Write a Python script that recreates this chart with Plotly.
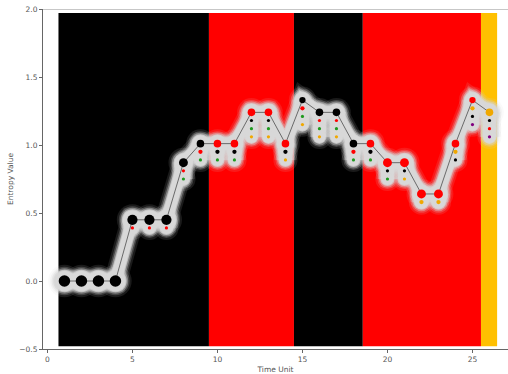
import plotly.graph_objects as go

# ---- data -------------------------------------------------------------
time_unit = list(range(1, 27))
entropy = [0.00, 0.00, 0.00, 0.00, 0.45, 0.45, 0.45, 0.87, 1.01, 1.01,
           1.01, 1.24, 1.24, 1.01, 1.33, 1.24, 1.24, 1.01, 1.01, 0.87,
           0.87, 0.64, 0.64, 1.01, 1.33, 1.24]

# state composition of each window: (state, count), dominant state first
composition = [
    [("black", 6)], [("black", 6)], [("black", 6)], [("black", 6)],
    [("black", 5), ("red", 1)], [("black", 5), ("red", 1)], [("black", 5), ("red", 1)],
    [("black", 4), ("red", 1), ("green", 1)],
    [("black", 3), ("red", 2), ("green", 1)],
    [("red", 3), ("black", 2), ("green", 1)],
    [("red", 3), ("black", 2), ("green", 1)],
    [("red", 3), ("black", 1), ("green", 1), ("orange", 1)],
    [("red", 3), ("black", 1), ("green", 1), ("orange", 1)],
    [("red", 3), ("black", 2), ("orange", 1)],
    [("black", 2), ("red", 2), ("green", 1), ("orange", 1)],
    [("black", 3), ("red", 1), ("green", 1), ("orange", 1)],
    [("black", 3), ("red", 1), ("green", 1), ("orange", 1)],
    [("black", 3), ("red", 2), ("green", 1)],
    [("red", 3), ("black", 2), ("green", 1)],
    [("red", 4), ("black", 1), ("green", 1)],
    [("red", 4), ("black", 1), ("orange", 1)],
    [("red", 4), ("orange", 2)],
    [("red", 4), ("orange", 2)],
    [("red", 3), ("orange", 2), ("black", 1)],
    [("red", 2), ("orange", 2), ("black", 1), ("purple", 1)],
    [("orange", 3), ("black", 1), ("red", 1), ("purple", 1)],
]

# background regimes
band_start = [0.65, 9.5, 14.5, 18.55, 25.5]
band_end = [9.5, 14.5, 18.55, 25.5, 26.45]
band_state = ["black", "red", "black", "red", "amber"]

# ---- style ------------------------------------------------------------
state_color = {"black": "#000000", "red": "#ff0000", "green": "#1f9a1f",
               "orange": "#f0a800", "purple": "#800080", "amber": "#ffc000"}
SUB_STEP = 0.06          # vertical spacing of the stacked state dots
GLOW_RGB = "216,216,216"


def dot_size(count):
    return 3.0 + 1.3 * (count - 1) if count > 1 else 3.2


fig = go.Figure()

for x0, x1, st in zip(band_start, band_end, band_state):
    fig.add_shape(type="rect", xref="x", yref="y", x0=x0, x1=x1, y0=-0.48, y1=1.97,
                  fillcolor=state_color[st], line_width=0, layer="below")

# positions of every dot
dot_x, dot_y, dot_c, dot_s = [], [], [], []
col_x, col_y = [], []
for t, e, comp in zip(time_unit, entropy, composition):
    for k, (st, n) in enumerate(comp):
        dot_x.append(t)
        dot_y.append(e - SUB_STEP * k)
        dot_c.append(state_color[st])
        dot_s.append(dot_size(n) + (2.0 if k == 0 else 0.0))
    if len(comp) > 1:
        col_x += [t, t, None]
        col_y += [e, e - SUB_STEP * (len(comp) - 1), None]

# soft glow: stacked translucent strokes around the path and the dot columns
glow_layers = [(23, 0.12), (19, 0.22), (16, 0.4), (13, 0.75), (11, 1.0)]
for w, a in glow_layers:
    col = f"rgba({GLOW_RGB},{a})"
    fig.add_trace(go.Scatter(x=time_unit, y=entropy, mode="lines",
                             line=dict(color=col, width=w), hoverinfo="skip",
                             showlegend=False))
    fig.add_trace(go.Scatter(x=col_x, y=col_y, mode="lines",
                             line=dict(color=col, width=w), hoverinfo="skip",
                             showlegend=False))
    fig.add_trace(go.Scatter(x=dot_x, y=dot_y, mode="markers",
                             marker=dict(color=col, size=[s + w - 2 for s in dot_s],
                                         opacity=1, line_width=0),
                             hoverinfo="skip", showlegend=False))

fig.add_trace(go.Scatter(x=time_unit, y=entropy, mode="lines",
                         line=dict(color="#6a6a6a", width=1), showlegend=False))
fig.add_trace(go.Scatter(x=dot_x, y=dot_y, mode="markers",
                         marker=dict(color=dot_c, size=dot_s, opacity=1, line_width=0),
                         showlegend=False))

# light top spine
fig.add_shape(type="line", xref="paper", yref="y", x0=0, x1=1, y0=2.0, y1=2.0,
              line=dict(color="#b4b4b4", width=1.5))

axis_font = dict(family="DejaVu Sans", size=7.5, color="#555555")
fig.update_xaxes(range=[-0.26, 27.09], tickvals=[0, 5, 10, 15, 20, 25],
                 showgrid=False, zeroline=False, showline=True, linecolor="#666666",
                 linewidth=1, ticks="outside", ticklen=3, tickcolor="#666666",
                 tickfont=axis_font,
                 title=dict(text="Time Unit", font=axis_font, standoff=6))
fig.update_yaxes(range=[-0.5, 2.0], tickvals=[-0.5, 0, 0.5, 1.0, 1.5, 2.0],
                 tickformat=".1f", showgrid=False, zeroline=False, showline=True,
                 linecolor="#666666", linewidth=1, ticks="outside", ticklen=3,
                 tickcolor="#666666", tickfont=axis_font,
                 title=dict(text="Entropy Value", font=axis_font, standoff=4))
fig.update_layout(width=508, height=374, margin=dict(l=43, r=0, t=9, b=25),
                  paper_bgcolor="white", plot_bgcolor="white")

fig.write_html("out.html")
